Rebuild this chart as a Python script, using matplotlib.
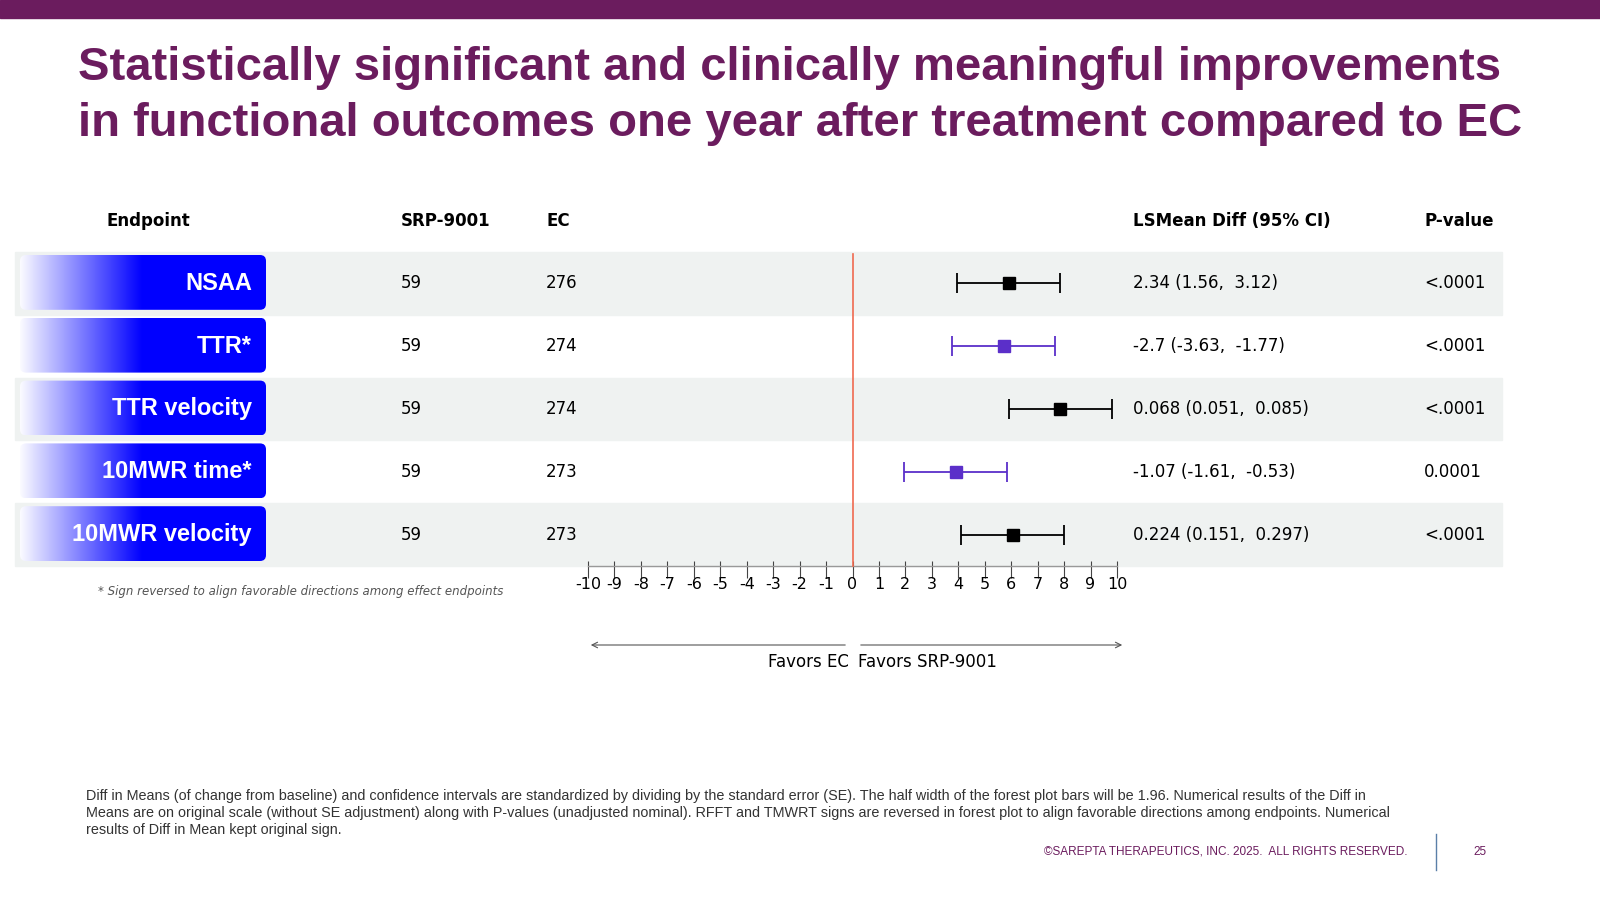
import matplotlib.pyplot as plt
import numpy as np
from matplotlib.patches import FancyBboxPatch, Rectangle
from matplotlib.colors import LinearSegmentedColormap

endpoints = ['NSAA', 'TTR*', 'TTR velocity', '10MWR time*', '10MWR velocity']
n_srp = [59, 59, 59, 59, 59]
n_ec = [276, 274, 274, 273, 273]
std_diff = [5.9, 5.71, 7.86, 3.9, 6.05]   # standardized effect (diff / SE)
half_width = 1.96
lsmean = ['2.34 (1.56,  3.12)', '-2.7 (-3.63,  -1.77)', '0.068 (0.051,  0.085)',
          '-1.07 (-1.61,  -0.53)', '0.224 (0.151,  0.297)']
pvals = ['<.0001', '<.0001', '<.0001', '0.0001', '<.0001']
marker_colors = ['black', '#5B2FC9', 'black', '#5B2FC9', 'black']
xticks = list(range(-10, 11))

W, H = 1600, 900
PURPLE = '#6B1C5E'
BOLDFONT = ['Liberation Sans', 'DejaVu Sans']
plt.rcParams['axes.unicode_minus'] = False

fig = plt.figure(figsize=(16, 9), dpi=100)
bg = fig.add_axes([0, 0, 1, 1])
bg.set_xlim(0, W)
bg.set_ylim(H, 0)
bg.axis('off')

# top band and title
bg.add_patch(Rectangle((0, 0), W, 18, color=PURPLE))
bg.text(78, 68, 'Statistically significant and clinically meaningful improvements',
        fontsize=34, fontweight='bold', color=PURPLE, family=BOLDFONT, va='center')
bg.text(78, 124, 'in functional outcomes one year after treatment compared to EC',
        fontsize=34, fontweight='bold', color=PURPLE, family=BOLDFONT, va='center')

# column headers
hy = 221
for x, s in [(107, 'Endpoint'), (401, 'SRP-9001'), (546, 'EC'),
             (1133, 'LSMean Diff (95% CI)'), (1424, 'P-value')]:
    bg.text(x, hy, s, fontsize=12, fontweight='bold', va='center')

row_top, row_h = 252, 62.8
grad = np.linspace(0, 1, 256).reshape(1, -1)
cmap = LinearSegmentedColormap.from_list('g', ['#FFFFFF', '#0000FF', '#0000FF'])
for i, ep in enumerate(endpoints):
    y0 = row_top + i * row_h
    yc = y0 + row_h / 2
    if i % 2 == 0:
        bg.add_patch(Rectangle((15, y0), 1487, row_h, color='#EFF2F1', zorder=0))
    box = FancyBboxPatch((20, y0 + 3), 246, row_h - 8,
                         boxstyle='round,pad=0,rounding_size=6',
                         facecolor='none', edgecolor='none')
    bg.add_patch(box)
    im = bg.imshow(grad, extent=(18, 266, y0 + row_h - 5, y0 + 3), cmap=cmap,
                   aspect='auto', zorder=1)
    im.set_clip_path(box)
    bg.text(252, yc, ep, fontsize=17, fontweight='bold', color='white',
            family=BOLDFONT, ha='right', va='center', zorder=2)
    bg.text(401, yc, str(n_srp[i]), fontsize=12, va='center')
    bg.text(546, yc, str(n_ec[i]), fontsize=12, va='center')
    bg.text(1133, yc, lsmean[i], fontsize=12, va='center')
    bg.text(1424, yc, pvals[i], fontsize=12, va='center')

bg.text(98, 592, '* Sign reversed to align favorable directions among effect endpoints',
        fontsize=8.5, style='italic', color='#555555', va='center')

# forest plot axes
x0px, x1px = 588, 1117
y_bot = row_top + 5 * row_h
ax = fig.add_axes([x0px / W, 1 - (y_bot + 12) / H, (x1px - x0px) / W, (5 * row_h + 12) / H])
ax.patch.set_alpha(0)
ax.set_xlim(-10, 10)
ax.set_ylim(5 + 12 / row_h, 0)
for s in ['top', 'right', 'left', 'bottom']:
    ax.spines[s].set_visible(False)
ax.set_yticks([])
ax.set_xticks(xticks)
ax.tick_params(axis='x', direction='in', length=12, color='#444444', labelsize=11.5, pad=-1)
ax.plot([-10, 10], [5, 5], color='#999999', lw=1, clip_on=False)
ax.plot([0, 0], [0.03, 5], color='#F06A50', lw=1.2)
for i, v in enumerate(std_diff):
    yc = i + 0.5
    ax.errorbar(v, yc, xerr=half_width, fmt='s', color=marker_colors[i],
                markersize=9, capsize=7, elinewidth=1.3, capthick=1.3)

# favors arrows
bg.annotate('', xy=(588, 645), xytext=(848, 645),
            arrowprops=dict(arrowstyle='->', color='#555555', lw=0.8))
bg.annotate('', xy=(1125, 645), xytext=(858, 645),
            arrowprops=dict(arrowstyle='->', color='#555555', lw=0.8))
bg.text(849, 662, 'Favors EC', fontsize=12, ha='right', va='center')
bg.text(858, 662, 'Favors SRP-9001', fontsize=12, ha='left', va='center')

note = ('Diff in Means (of change from baseline) and confidence intervals are standardized by dividing by the standard error (SE). The half width of the forest plot bars will be 1.96. Numerical results of the Diff in\n'
        'Means are on original scale (without SE adjustment) along with P-values (unadjusted nominal). RFFT and TMWRT signs are reversed in forest plot to align favorable directions among endpoints. Numerical\n'
        'results of Diff in Mean kept original sign.')
bg.text(86, 813, note, fontsize=10.4, family='Liberation Sans', color='#333333',
        va='center', linespacing=1.25)
bg.text(1408, 852, '©SAREPTA THERAPEUTICS, INC. 2025.  ALL RIGHTS RESERVED.',
        fontsize=8.5, family='Liberation Sans', color=PURPLE, ha='right', va='center')
bg.plot([1436, 1436], [834, 870], color='#5A7FA8', lw=1)
bg.text(1480, 852, '25', fontsize=8.5, family='Liberation Sans', color=PURPLE,
        ha='center', va='center')

fig.savefig('out.png', dpi=100)
